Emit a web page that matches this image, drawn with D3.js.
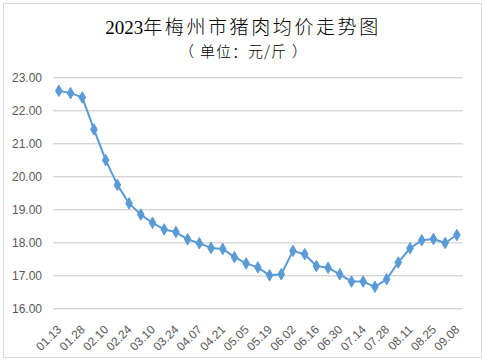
<!DOCTYPE html>
<html>
<head>
<meta charset="utf-8">
<script src="https://cdn.jsdelivr.net/npm/d3@7"></script>
<style>
  html, body { margin: 0; padding: 0; background: #fff; }
  svg { display: block; }
</style>
</head>
<body>
<svg id="chart" width="485" height="361"></svg>
<script>
const categories = ["01.13","01.20","01.28","02.03","02.10","02.17","02.24","03.03","03.10","03.17",
  "03.24","03.31","04.07","04.14","04.21","04.28","05.05","05.12","05.19","05.26",
  "06.02","06.09","06.16","06.23","06.30","07.07","07.14","07.21","07.28","08.04",
  "08.11","08.18","08.25","09.01","09.08"];
const prices = [22.59,22.52,22.39,21.42,20.49,19.74,19.18,18.84,18.59,18.39,
  18.31,18.09,17.97,17.83,17.80,17.55,17.36,17.24,17.00,17.03,
  17.74,17.64,17.28,17.23,17.03,16.81,16.81,16.65,16.88,17.39,
  17.82,18.06,18.10,17.98,18.22];
const xTickLabels = ["01.13","01.28","02.10","02.24","03.10","03.24","04.07","04.21","05.05",
  "05.19","06.02","06.16","06.30","07.14","07.28","08.11","08.25","09.08"];
const yTicks = [16,17,18,19,20,21,22,23];
const titleYear = "2023";
const titleRest = "年梅州市猪肉均价走势图";
const subtitleParts = ["（", "单位：元/斤", "）"];

const svg = d3.select("#chart");
const W = 485, H = 361;
const plot = {left: 53, right: 462.7, top: 77.3, bottom: 308.3};

// outer frame
svg.append("rect").attr("x", 3.5).attr("y", 3.5).attr("width", W - 7).attr("height", H - 7)
  .attr("fill", "#fff").attr("stroke", "#d9d9d9").attr("stroke-width", 1);

const x = d3.scaleBand().domain(categories).range([plot.left, plot.right]).padding(0);
const y = d3.scaleLinear().domain([16, 23]).range([plot.bottom, plot.top]);
const cx = d => x(d) + x.bandwidth() / 2;

// gridlines + y labels
const yAxis = d3.axisLeft(y).tickValues(yTicks).tickFormat(d3.format(".2f"))
  .tickSize(-(plot.right - plot.left)).tickPadding(11);
const gy = svg.append("g").attr("transform", `translate(${plot.left},0)`).call(yAxis);
gy.select(".domain").remove();
gy.selectAll(".tick line").attr("stroke", "#c6c6c6").attr("stroke-width", 1);
gy.selectAll(".tick text").attr("fill", "#595959")
  .style("font-family", "'Liberation Sans', Arial, sans-serif").style("font-size", "12px");

// x labels
const xAxis = d3.axisBottom(x).tickValues(xTickLabels).tickSize(0).tickPadding(0);
const gx = svg.append("g").attr("transform", `translate(0,${plot.bottom})`).call(xAxis);
gx.select(".domain").remove();
gx.selectAll(".tick text")
  .attr("fill", "#595959")
  .style("font-family", "'Liberation Sans', Arial, sans-serif").style("font-size", "12px")
  .attr("text-anchor", "end")
  .attr("dy", "0.35em")
  .attr("y", 0)
  .attr("transform", "translate(0.5,19) rotate(-45)");

// line
const line = d3.line().x((d, i) => cx(categories[i])).y(d => y(d));
svg.append("path").datum(prices).attr("d", line)
  .attr("fill", "none").attr("stroke", "#5b9bd5").attr("stroke-width", 2)
  .attr("stroke-linejoin", "round");

// markers
const sym = d3.symbol().type(d3.symbolDiamond).size(38);
svg.append("g").selectAll("path").data(prices).join("path")
  .attr("d", sym)
  .attr("transform", (d, i) => `translate(${cx(categories[i])},${y(d)})`)
  .attr("fill", "#5b9bd5").attr("stroke", "#5b9bd5").attr("stroke-width", 1);

// title
const t = svg.append("text").attr("x", 243).attr("y", 34).attr("text-anchor", "middle")
  .attr("fill", "#000").style("font-size", "19px");
t.append("tspan").text(titleYear).style("font-family", "'Liberation Serif', serif");
t.append("tspan").text(titleRest).style("font-family", "'Noto Sans CJK SC', sans-serif")
  .style("font-weight", "300").style("letter-spacing", "2.6px");

const st = svg.append("text").attr("x", 243).attr("y", 57).attr("text-anchor", "middle")
  .attr("fill", "#000").style("font-size", "15px").style("font-weight", "300")
  .style("font-family", "'Noto Sans CJK SC', sans-serif");
st.append("tspan").text(subtitleParts[0]);
st.append("tspan").attr("dx", 6).text(subtitleParts[1]).style("letter-spacing", "1px");
st.append("tspan").attr("dx", 5).text(subtitleParts[2]);
</script>
</body>
</html>
